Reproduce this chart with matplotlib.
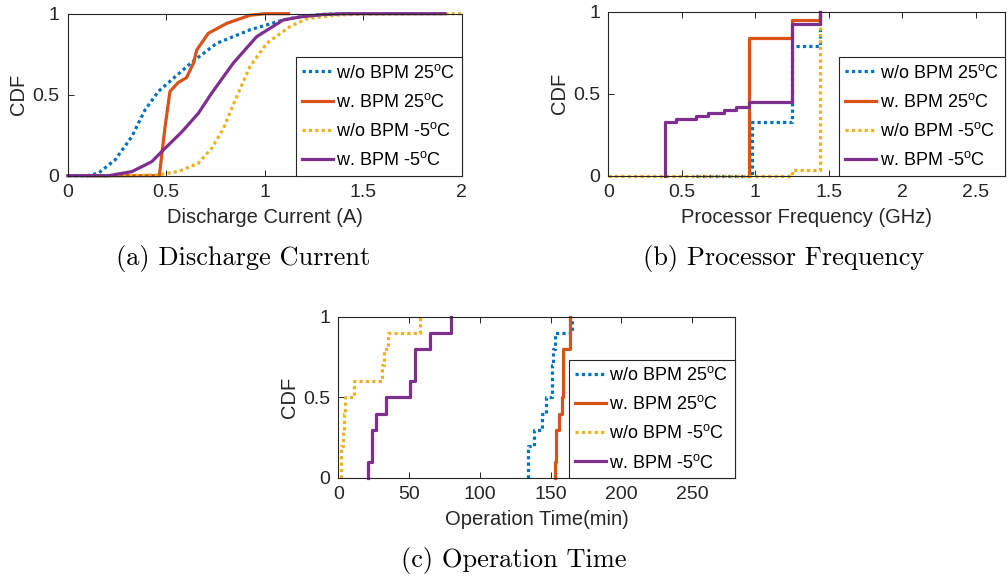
import matplotlib.pyplot as plt
import numpy as np

plt.rcParams['font.family'] = ['Liberation Sans', 'DejaVu Sans']
plt.rcParams['mathtext.fontset'] = 'custom'
plt.rcParams['mathtext.rm'] = 'Liberation Sans'

# (a) discharge current CDF points
blue_a_x = [0, 0.10, 0.155, 0.24, 0.325, 0.392, 0.46, 0.545, 0.63, 0.756, 0.925, 1.094, 1.2, 1.3, 1.45]
blue_a_y = [0, 0, 0.015, 0.097, 0.24, 0.405, 0.52, 0.61, 0.70, 0.817, 0.90, 0.961, 0.985, 0.996, 1.0]
orange_a_x = [0.1, 0.3, 0.465, 0.494, 0.519, 0.561, 0.603, 0.638, 0.655, 0.714, 0.807, 0.925, 1.0, 1.12]
orange_a_y = [0, 0, 0.0, 0.30, 0.52, 0.575, 0.605, 0.694, 0.776, 0.879, 0.94, 0.99, 1.0, 1.0]
yellow_a_x = [0.15, 0.3, 0.46, 0.561, 0.663, 0.731, 0.79, 0.858, 0.925, 1.01, 1.128, 1.21, 1.35, 1.5, 2.0]
yellow_a_y = [0, 0, 0.005, 0.025, 0.077, 0.169, 0.29, 0.488, 0.673, 0.817, 0.92, 0.967, 0.99, 0.998, 1.0]
purple_a_x = [0, 0.206, 0.325, 0.426, 0.494, 0.579, 0.663, 0.731, 0.84, 0.959, 1.094, 1.179, 1.3, 1.4, 1.915]
purple_a_y = [0, 0, 0.025, 0.086, 0.169, 0.27, 0.385, 0.51, 0.694, 0.858, 0.961, 0.98, 0.995, 1.0, 1.0]

# (b) processor frequency CDF steps (GHz, cdf after the step)
blue_b_x = [0.6, 0.98, 1.25, 1.44]
blue_b_y = [0, 0.325, 0.79, 1.0]
orange_b_x = [0.96, 0.96, 1.25, 1.44]
orange_b_y = [0, 0.838, 0.95, 1.0]
yellow_b_x = [0, 1.25, 1.44]
yellow_b_y = [0, 0.035, 1.0]
purple_b_x = [0.384, 0.384, 0.459, 0.6, 0.678, 0.787, 0.87, 0.96, 1.248, 1.442]
purple_b_y = [0, 0.325, 0.344, 0.364, 0.38, 0.40, 0.42, 0.447, 0.923, 1.0]

# (c) operation time samples (min), 10 runs each
blue_c = [134, 134, 138, 144, 147, 151, 151, 152, 153, 165]
orange_c = [153, 154, 154, 156, 158, 159, 159, 159, 164, 164]
yellow_c = [2, 2, 3, 4, 5, 11, 31, 32, 35, 58]
purple_c = [21, 24, 24, 27, 34, 51, 54, 54, 65, 80]

labels = ['w/o BPM 25$^\\mathrm{o}$C', 'w. BPM 25$^\\mathrm{o}$C',
          'w/o BPM -5$^\\mathrm{o}$C', 'w. BPM -5$^\\mathrm{o}$C']
colors = ['#0072BD', '#D95319', '#EDB120', '#7E2F8E']
styles = [(0, (1, 1)), '-', (0, (1, 1)), '-']
LW = 2.3
FS = 14
GRAY = '0.15'


def samples_to_steps(vals):
    vals = sorted(vals)
    n = len(vals)
    xs = [vals[0]] + vals
    ys = [0] + [(i + 1) / n for i in range(n)]
    return xs, ys


def setup(ax, xmax, xticks, xlabel):
    ax.set_xlim(0, xmax)
    ax.set_ylim(0, 1)
    ax.set_xticks(xticks)
    ax.set_xticklabels(['%g' % t for t in xticks])
    ax.set_yticks([0, 0.5, 1])
    ax.set_yticklabels(['0', '0.5', '1'])
    ax.tick_params(direction='in', top=True, right=True, length=4, width=0.7,
                   labelsize=FS, colors=GRAY, pad=6)
    ax.set_xlabel(xlabel, fontsize=14.5, color=GRAY, labelpad=5)
    ax.set_ylabel('CDF', fontsize=14.5, color=GRAY, labelpad=3)
    for s in ax.spines.values():
        s.set_color(GRAY)
        s.set_linewidth(0.8)
    leg = ax.legend(loc='lower right', bbox_to_anchor=(1, 0), borderaxespad=0,
                    fontsize=13, fancybox=False, framealpha=1, edgecolor=GRAY,
                    handlelength=1.7, handletextpad=0.2, borderpad=0.35,
                    labelspacing=0.62)
    leg.get_frame().set_linewidth(0.8)


fig = plt.figure(figsize=(10.08, 5.77), dpi=100)
ax_a = fig.add_axes([0.0672, 0.6955, 0.3908, 0.2808])
ax_b = fig.add_axes([0.6035, 0.6955, 0.3935, 0.2842])
ax_c = fig.add_axes([0.3356, 0.1716, 0.3931, 0.2794])

# discharge current
for x, y, c, ls, lab in zip([blue_a_x, orange_a_x, yellow_a_x, purple_a_x],
                            [blue_a_y, orange_a_y, yellow_a_y, purple_a_y],
                            colors, styles, labels):
    ax_a.plot(x, y, color=c, linestyle=ls, lw=LW, label=lab, clip_on=False)
setup(ax_a, 2, [0, 0.5, 1, 1.5, 2], 'Discharge Current (A)')

# processor frequency
for x, y, c, ls, lab in zip([blue_b_x, orange_b_x, yellow_b_x, purple_b_x],
                            [blue_b_y, orange_b_y, yellow_b_y, purple_b_y],
                            colors, styles, labels):
    ax_b.step(x, y, where='post', color=c, linestyle=ls, lw=LW, label=lab, clip_on=False)
setup(ax_b, 2.7, [0, 0.5, 1, 1.5, 2, 2.5], 'Processor Frequency (GHz)')

# operation time
for vals, c, ls, lab in zip([blue_c, orange_c, yellow_c, purple_c], colors, styles, labels):
    xs, ys = samples_to_steps(vals)
    ax_c.step(xs, ys, where='post', color=c, linestyle=ls, lw=LW, label=lab, clip_on=False)
setup(ax_c, 280, [0, 50, 100, 150, 200, 250], 'Operation Time(min)')

cap = dict(fontsize=19, family='cmr10', ha='center', va='center', color='black')
fig.text(243 / 1008, 1 - 258 / 577, '(a) Discharge Current', **cap)
fig.text(784 / 1008, 1 - 258 / 577, '(b) Processor Frequency', **cap)
fig.text(514 / 1008, 1 - 560 / 577, '(c) Operation Time', **cap)

fig.savefig('out.png', dpi=100)
